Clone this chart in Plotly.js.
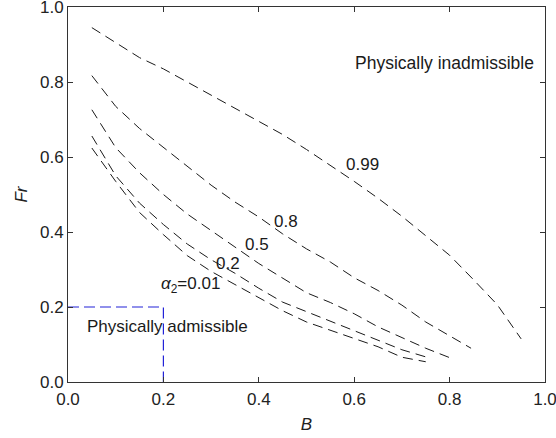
<!DOCTYPE html>
<html>
<head>
<meta charset="utf-8">
<script src="https://cdn.plot.ly/plotly-3.0.1.min.js"></script>
<style>html,body{margin:0;padding:0;background:#fff;}#chart{width:556px;height:438px;}</style>
</head>
<body>
<div id="chart"></div>
<script>
// Curve data (B, Fr) for each alpha_2
const B_099 = [0.05,0.10,0.15,0.20,0.25,0.30,0.35,0.40,0.45,0.50,0.55,0.60,0.65,0.70,0.75,0.80,0.85,0.90,0.95];
const Fr_099 = [0.945,0.905,0.865,0.835,0.80,0.765,0.73,0.695,0.66,0.62,0.578,0.535,0.49,0.442,0.39,0.338,0.273,0.206,0.115];

const B_08 = [0.05,0.10,0.15,0.20,0.25,0.30,0.35,0.40,0.45,0.50,0.55,0.60,0.65,0.70,0.75,0.80,0.845];
const Fr_08 = [0.817,0.735,0.676,0.625,0.575,0.525,0.48,0.44,0.395,0.355,0.32,0.278,0.244,0.205,0.16,0.123,0.09];

const B_05 = [0.05,0.10,0.15,0.20,0.25,0.30,0.35,0.40,0.45,0.50,0.55,0.60,0.65,0.70,0.75,0.80];
const Fr_05 = [0.726,0.625,0.558,0.50,0.448,0.405,0.36,0.316,0.278,0.238,0.212,0.182,0.147,0.118,0.09,0.065];

const B_02 = [0.05,0.10,0.15,0.20,0.25,0.30,0.35,0.40,0.45,0.50,0.55,0.60,0.65,0.70,0.75];
const Fr_02 = [0.656,0.55,0.477,0.42,0.368,0.326,0.29,0.25,0.213,0.188,0.162,0.137,0.112,0.086,0.067];

const B_001 = [0.05,0.10,0.15,0.20,0.25,0.30,0.35,0.40,0.45,0.50,0.55,0.60,0.65,0.70,0.75];
const Fr_001 = [0.624,0.535,0.452,0.393,0.337,0.295,0.26,0.225,0.19,0.16,0.138,0.117,0.094,0.066,0.054];

// Physically admissible region boundary
const boxX = [0, 0.2, 0.2];
const boxY = [0.2, 0.2, 0];

// Tick labels
const tickVals = [0, 0.2, 0.4, 0.6, 0.8, 1.0];
const tickText = ["0.0", "0.2", "0.4", "0.6", "0.8", "1.0"];

// Curve labels
const labelText = ["0.99", "0.8", "0.5", "0.2", "<i>α</i><sub>2</sub>=0.01"];
const labelX = [0.617, 0.457, 0.396, 0.336, 0.256];
const labelY = [0.579, 0.428, 0.366, 0.317, 0.258];

const FONT = "Liberation Sans, Arial, Helvetica, sans-serif";
const curveLine = {color: "#1a1a1a", width: 1, dash: "10px,6px"};

const traces = [
  {x: B_099, y: Fr_099, mode: "lines", line: curveLine, hoverinfo: "skip"},
  {x: B_08, y: Fr_08, mode: "lines", line: curveLine, hoverinfo: "skip"},
  {x: B_05, y: Fr_05, mode: "lines", line: curveLine, hoverinfo: "skip"},
  {x: B_02, y: Fr_02, mode: "lines", line: curveLine, hoverinfo: "skip"},
  {x: B_001, y: Fr_001, mode: "lines", line: curveLine, hoverinfo: "skip"},
  {x: boxX, y: boxY, mode: "lines", line: {color: "#2323d8", width: 1.2, dash: "11px,5px"}, hoverinfo: "skip"}
];

const annotations = labelText.map((t, i) => ({
  x: labelX[i], y: labelY[i], xref: "x", yref: "y", text: t, showarrow: false,
  font: {family: FONT, size: 17, color: "#1a1a1a"}
}));
annotations.push({x: 0.209, y: 0.148, xref: "x", yref: "y", text: "Physically admissible", showarrow: false,
  font: {family: FONT, size: 17, color: "#1a1a1a"}});
annotations.push({x: 0.79, y: 0.851, xref: "x", yref: "y", text: "Physically inadmissible", showarrow: false,
  font: {family: FONT, size: 17.5, color: "#1a1a1a"}});

const axisCommon = {
  range: [0, 1], tickvals: tickVals, ticktext: tickText,
  ticks: "inside", ticklen: 5, tickwidth: 1, tickcolor: "#333",
  showline: true, linecolor: "#333", linewidth: 1, mirror: "ticks",
  showgrid: false, zeroline: false, ticklabeloverflow: "allow",
  tickfont: {family: FONT, size: 17, color: "#222"}
};

const layout = {
  width: 556, height: 438,
  margin: {l: 68, r: 11, t: 7, b: 56},
  paper_bgcolor: "#fff", plot_bgcolor: "#fff",
  showlegend: false,
  xaxis: Object.assign({}, axisCommon, {ticklabelstandoff: 2, title: {text: "<i>B</i>", font: {family: FONT, size: 17, color: "#222"}, standoff: 9}}),
  yaxis: Object.assign({}, axisCommon, {title: {text: "<i>Fr</i>", font: {family: FONT, size: 17, color: "#222"}, standoff: 8}}),
  annotations: annotations
};

Plotly.newPlot("chart", traces, layout, {staticPlot: true, displayModeBar: false});
</script>
</body>
</html>
